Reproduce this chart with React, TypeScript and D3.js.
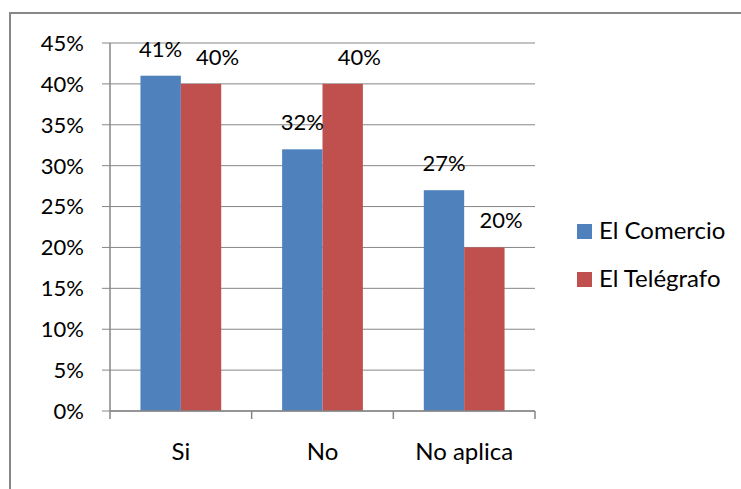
import React from "react";
import * as d3 from "d3";

const categories = ["Si", "No", "No aplica"];
const seriesNames = ["El Comercio", "El Telégrafo"];
const elComercio = [41, 32, 27];
const elTelegrafo = [40, 40, 20];
const yTicks = [0, 5, 10, 15, 20, 25, 30, 35, 40, 45];
const colors = ["#4F81BD", "#C0504D"];

const W = 741;
const H = 489;
const FONT = "Lato, 'Open Sans', sans-serif";

export default function App() {
  const left = 110;
  const right = 535;
  const top = 43;
  const bottom = 411;

  const x = d3.scaleBand<string>().domain(categories).range([left, right]).paddingInner(0).paddingOuter(0);
  const y = d3.scaleLinear().domain([0, 45]).range([bottom, top]);
  const groupW = x.bandwidth() * 0.57;
  const inner = d3.scaleBand<string>().domain(seriesNames).range([0, groupW]);
  const series = [elComercio, elTelegrafo];
  const grid = "#868686";

  // label layout with simple overlap avoidance
  const labels: { x: number; y: number; text: string }[] = [];
  categories.forEach((c, ci) => {
    const g0 = (x(c) as number) + (x.bandwidth() - groupW) / 2;
    let prevEnd = -Infinity;
    series.forEach((s, si) => {
      const cx = g0 + (inner(seriesNames[si]) as number) + inner.bandwidth() / 2;
      const tw = 45;
      let lx = cx;
      if (lx - tw / 2 < prevEnd) lx = prevEnd + 12 + tw / 2;
      prevEnd = lx + tw / 2;
      labels.push({ x: lx, y: y(s[ci]) - 19, text: `${s[ci]}%` });
    });
  });

  return (
    <svg width={W} height={H} style={{ position: "absolute", left: 0, top: 0, background: "#fff" }}>
      <rect x={0} y={0} width={W} height={H} fill="#fff" />
      <rect x={10} y={13} width={W + 20} height={H + 20} fill="none" stroke="#878787" strokeWidth={2} />
      {yTicks.map((t) => (
        <g key={t}>
          <line x1={left - 8} x2={right} y1={y(t)} y2={y(t)} stroke={grid} strokeWidth={1} />
          <text x={84} y={y(t)} dy="0.36em" textAnchor="end" fontFamily={FONT} fontSize={22} fill="#000">
            {t}%
          </text>
        </g>
      ))}
      {categories.map((c, ci) => {
        const g0 = (x(c) as number) + (x.bandwidth() - groupW) / 2;
        return series.map((s, si) => (
          <rect
            key={c + si}
            x={g0 + (inner(seriesNames[si]) as number)}
            y={y(s[ci])}
            width={inner.bandwidth()}
            height={bottom - y(s[ci])}
            fill={colors[si]}
          />
        ));
      })}
      <line x1={left} x2={left} y1={top} y2={bottom} stroke={grid} strokeWidth={1.5} />
      <line x1={left} x2={right} y1={bottom} y2={bottom} stroke={grid} strokeWidth={1.5} />
      {[...categories.map((c) => x(c) as number), right].map((v, i) => (
        <line key={i} x1={v} x2={v} y1={bottom} y2={bottom + 8} stroke={grid} strokeWidth={1.5} />
      ))}
      {categories.map((c) => (
        <text
          key={c}
          x={(x(c) as number) + x.bandwidth() / 2}
          y={460}
          textAnchor="middle"
          fontFamily={FONT}
          fontSize={24}
          fill="#000"
        >
          {c}
        </text>
      ))}
      {labels.map((l, i) => (
        <text key={i} x={l.x} y={l.y} textAnchor="middle" fontFamily={FONT} fontSize={22} fill="#000">
          {l.text}
        </text>
      ))}
      {seriesNames.map((n, i) => (
        <g key={n}>
          <rect x={577} y={224 + i * 48} width={15} height={15} fill={colors[i]} />
          <text x={599} y={239 + i * 48} fontFamily={FONT} fontSize={24} fill="#000">
            {n}
          </text>
        </g>
      ))}
    </svg>
  );
}
